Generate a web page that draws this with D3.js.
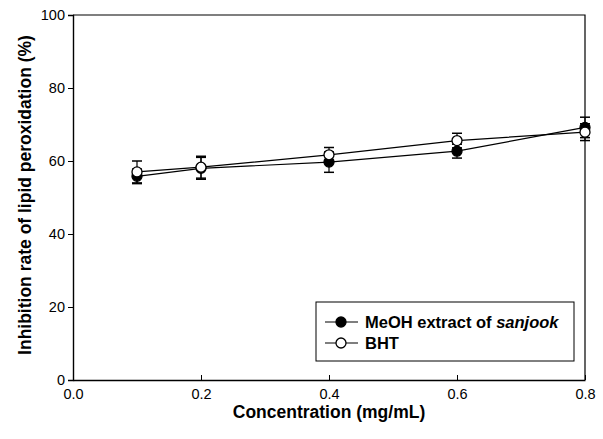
<!DOCTYPE html>
<html><head><meta charset="utf-8">
<script src="https://cdn.jsdelivr.net/npm/d3@7"></script>
<style>body{margin:0;background:#fff}svg{display:block}text{font-family:Arial,"Liberation Sans",sans-serif}</style>
</head><body>
<svg id="c" width="603" height="439"></svg>
<script>
const concentrations = [0.1, 0.2, 0.4, 0.6, 0.8];
const meohValues = [55.8, 58.0, 59.7, 62.7, 69.2];
const meohErrors = [2.0, 3.0, 2.8, 1.9, 2.8];
const bhtValues = [57.0, 58.3, 61.7, 65.6, 67.9];
const bhtErrors = [3.0, 3.0, 2.0, 2.0, 2.3];
const xTicks = [0.0, 0.2, 0.4, 0.6, 0.8];
const yTicks = [0, 20, 40, 60, 80, 100];
const seriesNames = ["MeOH extract of ", "BHT"];

const svg = d3.select("#c");
const L = 73, R = 585, T = 15, B = 380;
const x = d3.scaleLinear().domain([0, 0.8]).range([L, R]);
const y = d3.scaleLinear().domain([0, 100]).range([B, T]);

// frame
svg.append("path").attr("d", `M${L},${T}H${R}V${B}`).attr("fill","none").attr("stroke","#000").attr("stroke-width",1.2);

const yAxis = svg.append("g").attr("transform",`translate(${L},0)`)
  .call(d3.axisLeft(y).tickValues(yTicks).tickSize(5).tickPadding(3).tickFormat(d3.format("d")));
yAxis.select(".domain").attr("stroke-width",1.4);
yAxis.selectAll("text").attr("font-size",14.5).attr("fill","#000");

const xAxis = svg.append("g").attr("transform",`translate(0,${B})`)
  .call(d3.axisBottom(x).tickValues(xTicks).tickSizeInner(-5).tickSizeOuter(0).tickPadding(9).tickFormat(d3.format(".1f")));
xAxis.select(".domain").attr("stroke-width",1.4);
xAxis.selectAll("text").attr("font-size",14.5).attr("fill","#000");

svg.append("text").attr("x",329).attr("y",418).attr("text-anchor","middle")
  .attr("font-size",17.5).attr("font-weight","bold").text("Concentration (mg/mL)");
svg.append("text").attr("transform","translate(31,195) rotate(-90)").attr("text-anchor","middle")
  .attr("font-size",17.5).attr("font-weight","bold").text("Inhibition rate of lipid peroxidation (%)");

const series = [
  {vals: meohValues, errs: meohErrors, fill: "#000"},
  {vals: bhtValues, errs: bhtErrors, fill: "#fff"}
];
const line = d3.line().x((d,i)=>x(concentrations[i])).y(d=>y(d));
series.forEach(s=>{
  svg.append("path").attr("d", line(s.vals)).attr("fill","none").attr("stroke","#000").attr("stroke-width",1.2);
});
series.forEach(s=>{
  const g = svg.append("g");
  s.vals.forEach((v,i)=>{
    const cx = x(concentrations[i]);
    const up = y(v + s.errs[i]), dn = y(v - s.errs[i]);
    g.append("line").attr("x1",cx).attr("x2",cx).attr("y1",up).attr("y2",dn).attr("stroke","#000").attr("stroke-width",1.2);
    g.append("line").attr("x1",cx-5).attr("x2",cx+5).attr("y1",up).attr("y2",up).attr("stroke","#000").attr("stroke-width",1.5);
    g.append("line").attr("x1",cx-5).attr("x2",cx+5).attr("y1",dn).attr("y2",dn).attr("stroke","#000").attr("stroke-width",1.5);
  });
});
series.forEach(s=>{
  svg.append("g").selectAll("circle").data(s.vals).join("circle")
    .attr("cx",(d,i)=>x(concentrations[i])).attr("cy",d=>y(d)).attr("r",5)
    .attr("fill",s.fill).attr("stroke","#000").attr("stroke-width",1.3);
});

// legend
const lg = svg.append("g");
lg.append("rect").attr("x",316).attr("y",302).attr("width",258).attr("height",59)
  .attr("fill","#fff").attr("stroke","#000").attr("stroke-width",1);
[0,1].forEach(i=>{
  const ly = 322 + i*21;
  lg.append("line").attr("x1",325).attr("x2",358).attr("y1",ly).attr("y2",ly).attr("stroke","#000").attr("stroke-width",1.2);
  lg.append("circle").attr("cx",341).attr("cy",ly).attr("r",5).attr("fill",series[i].fill).attr("stroke","#000").attr("stroke-width",1.3);
  const t = lg.append("text").attr("x",365).attr("y",ly+6).attr("font-size",16.5).attr("font-weight","bold").text(seriesNames[i]);
  if(i===0) t.append("tspan").attr("font-style","italic").text("sanjook");
});
</script>
</body></html>
